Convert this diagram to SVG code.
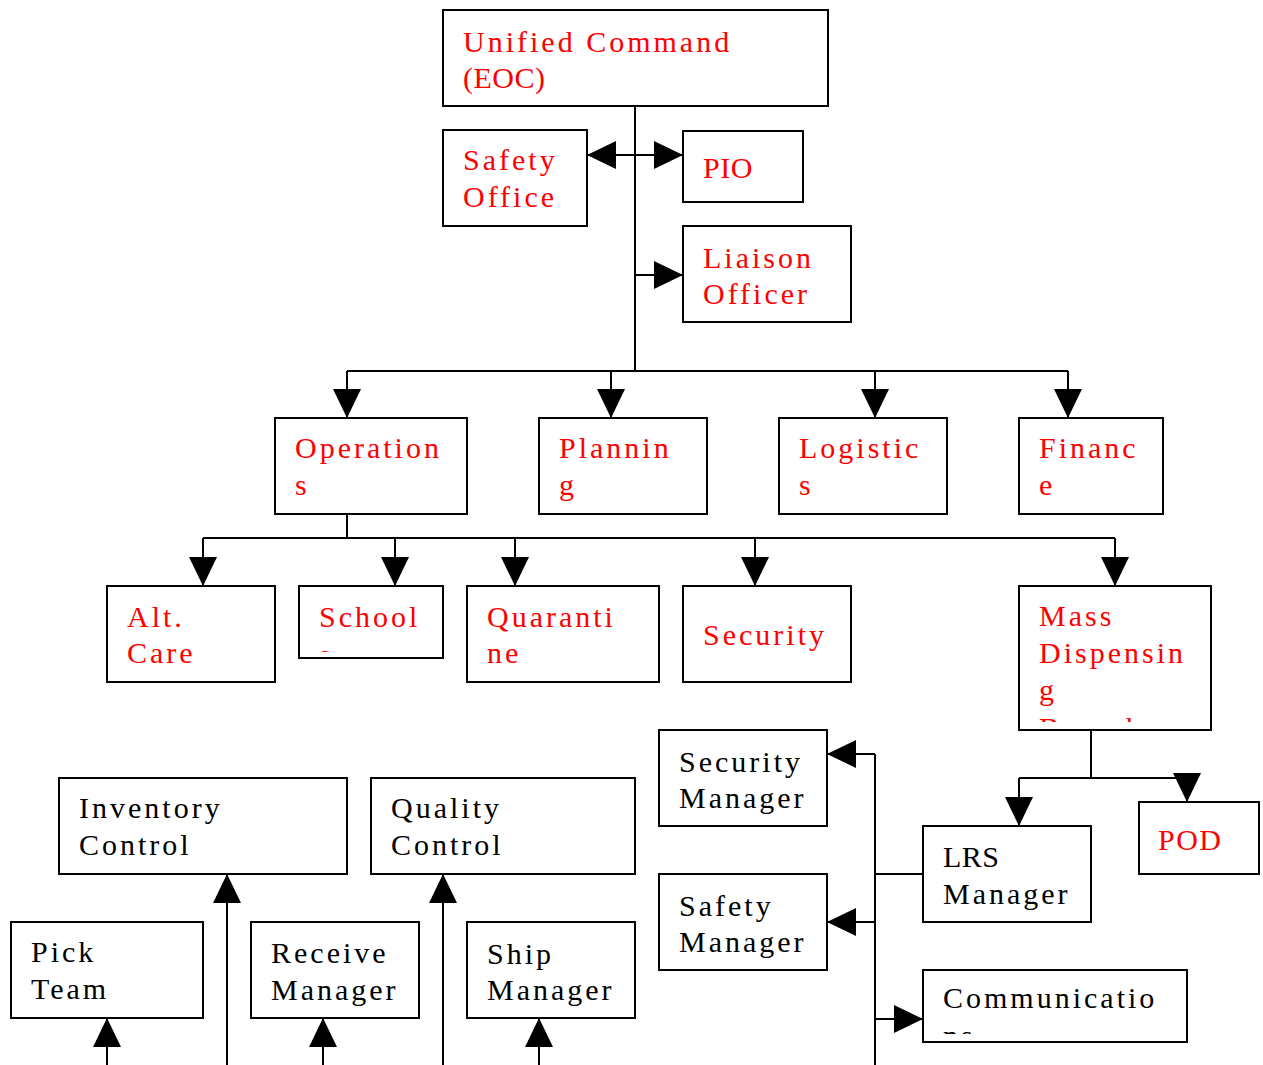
<svg xmlns="http://www.w3.org/2000/svg" width="1263" height="1065" viewBox="0 0 1263 1065">
<style>
.box{fill:#fff;stroke:#000;stroke-width:2}
text{font-family:"Liberation Serif","Times New Roman",serif;font-size:30px;letter-spacing:3px}
.r{fill:#ff0000}
.k{fill:#000}
.n{letter-spacing:0.5px}
.c{fill:none;stroke:#000;stroke-width:2}
.a{fill:none;stroke:#000;stroke-width:2;marker-end:url(#ah)}
</style>
<defs>
<marker id="ah" markerUnits="userSpaceOnUse" markerWidth="29" markerHeight="28" viewBox="0 0 29 28" refX="29" refY="14" orient="auto-start-reverse">
<path d="M0,0 L29,14 L0,28 Z" fill="#000"/>
</marker>
<clipPath id="clipSchool"><rect x="299" y="586" width="144" height="66"/></clipPath>
<clipPath id="clipMass"><rect x="1019" y="586" width="192" height="136"/></clipPath>
<clipPath id="clipComm"><rect x="923" y="970" width="264" height="64"/></clipPath>
</defs>

<g id="connectors">
<path class="c" d="M635,106 V371"/>
<path class="a" d="M635,155 H587" />
<path class="a" d="M635,155 H683" />
<path class="a" d="M635,275 H683" />
<path class="c" d="M347,371 H1068"/>
<path class="a" d="M347,371 V418"/>
<path class="a" d="M611,371 V418"/>
<path class="a" d="M875,371 V418"/>
<path class="a" d="M1068,371 V418"/>
<path class="c" d="M347,514 V538"/>
<path class="c" d="M203,538 H1115"/>
<path class="a" d="M203,538 V586"/>
<path class="a" d="M395,538 V586"/>
<path class="a" d="M515,538 V586"/>
<path class="a" d="M755,538 V586"/>
<path class="a" d="M1115,538 V586"/>
<path class="c" d="M1091,730 V778"/>
<path class="c" d="M1019,778 H1187"/>
<path class="a" d="M1019,778 V826"/>
<path class="a" d="M1187,778 V802"/>
<path class="c" d="M923,874 H875"/>
<path class="c" d="M875,754 V1065"/>
<path class="a" d="M875,754 H827"/>
<path class="a" d="M875,922 H827"/>
<path class="a" d="M875,1019 H923"/>
<path class="a" d="M107,1065 V1018"/>
<path class="a" d="M227,1065 V874"/>
<path class="a" d="M323,1065 V1018"/>
<path class="a" d="M443,1065 V874"/>
<path class="a" d="M539,1065 V1018"/>
</g>

<g id="unified-command"><rect class="box" x="443" y="10" width="385" height="96"/>
<text class="r" x="463" y="52">Unified Command</text><text class="r n" x="463" y="88">(EOC)</text></g>
<g id="safety-office"><rect class="box" x="443" y="130" width="144" height="96"/>
<text class="r" x="463" y="170">Safety</text><text class="r" x="463" y="207">Office</text></g>
<g id="pio"><rect class="box" x="683" y="131" width="120" height="71"/>
<text class="r n" x="703" y="178">PIO</text></g>
<g id="liaison"><rect class="box" x="683" y="226" width="168" height="96"/>
<text class="r" x="703" y="268">Liaison</text><text class="r" x="703" y="304">Officer</text></g>

<g id="operations"><rect class="box" x="275" y="418" width="192" height="96"/>
<text class="r" x="295" y="458">Operation</text><text class="r" x="295" y="495">s</text></g>
<g id="planning"><rect class="box" x="539" y="418" width="168" height="96"/>
<text class="r" x="559" y="458">Plannin</text><text class="r" x="559" y="495">g</text></g>
<g id="logistics"><rect class="box" x="779" y="418" width="168" height="96"/>
<text class="r" x="799" y="458">Logistic</text><text class="r" x="799" y="495">s</text></g>
<g id="finance"><rect class="box" x="1019" y="418" width="144" height="96"/>
<text class="r" x="1039" y="458">Financ</text><text class="r" x="1039" y="495">e</text></g>

<g id="alt-care"><rect class="box" x="107" y="586" width="168" height="96"/>
<text class="r" x="127" y="627">Alt.</text><text class="r" x="127" y="663">Care</text></g>
<g id="school"><rect class="box" x="299" y="586" width="144" height="72"/>
<g clip-path="url(#clipSchool)"><text class="r" x="319" y="627">School</text><text class="r" x="319" y="665">s</text></g></g>
<g id="quarantine"><rect class="box" x="467" y="586" width="192" height="96"/>
<text class="r" x="487" y="627">Quaranti</text><text class="r" x="487" y="663">ne</text></g>
<g id="security"><rect class="box" x="683" y="586" width="168" height="96"/>
<text class="r" x="703" y="645">Security</text></g>
<g id="mass-dispensing"><rect class="box" x="1019" y="586" width="192" height="144"/>
<g clip-path="url(#clipMass)"><text class="r" x="1039" y="626">Mass</text><text class="r" x="1039" y="663">Dispensin</text><text class="r" x="1039" y="700">g</text><text class="r" x="1039" y="738">Branch</text></g></g>

<g id="security-manager"><rect class="box" x="659" y="730" width="168" height="96"/>
<text class="k" x="679" y="772">Security</text><text class="k" x="679" y="808">Manager</text></g>
<g id="safety-manager"><rect class="box" x="659" y="874" width="168" height="96"/>
<text class="k" x="679" y="916">Safety</text><text class="k" x="679" y="952">Manager</text></g>
<g id="lrs-manager"><rect class="box" x="923" y="826" width="168" height="96"/>
<text class="k n" x="943" y="867">LRS</text><text class="k" x="943" y="904">Manager</text></g>
<g id="pod"><rect class="box" x="1139" y="802" width="120" height="72"/>
<text class="r" style="letter-spacing:1.5px" x="1158" y="850">POD</text></g>
<g id="communications"><rect class="box" x="923" y="970" width="264" height="72"/>
<g clip-path="url(#clipComm)"><text class="k" x="943" y="1008">Communicatio</text><text class="k" x="943" y="1046">ns</text></g></g>

<g id="inventory-control"><rect class="box" x="59" y="778" width="288" height="96"/>
<text class="k" x="79" y="818">Inventory</text><text class="k" x="79" y="855">Control</text></g>
<g id="quality-control"><rect class="box" x="371" y="778" width="264" height="96"/>
<text class="k" x="391" y="818">Quality</text><text class="k" x="391" y="855">Control</text></g>
<g id="pick-team"><rect class="box" x="11" y="922" width="192" height="96"/>
<text class="k" x="31" y="962">Pick</text><text class="k" x="31" y="999">Team</text></g>
<g id="receive-manager"><rect class="box" x="251" y="922" width="168" height="96"/>
<text class="k" x="271" y="963">Receive</text><text class="k" x="271" y="1000">Manager</text></g>
<g id="ship-manager"><rect class="box" x="467" y="922" width="168" height="96"/>
<text class="k" x="487" y="964">Ship</text><text class="k" x="487" y="1000">Manager</text></g>
</svg>
